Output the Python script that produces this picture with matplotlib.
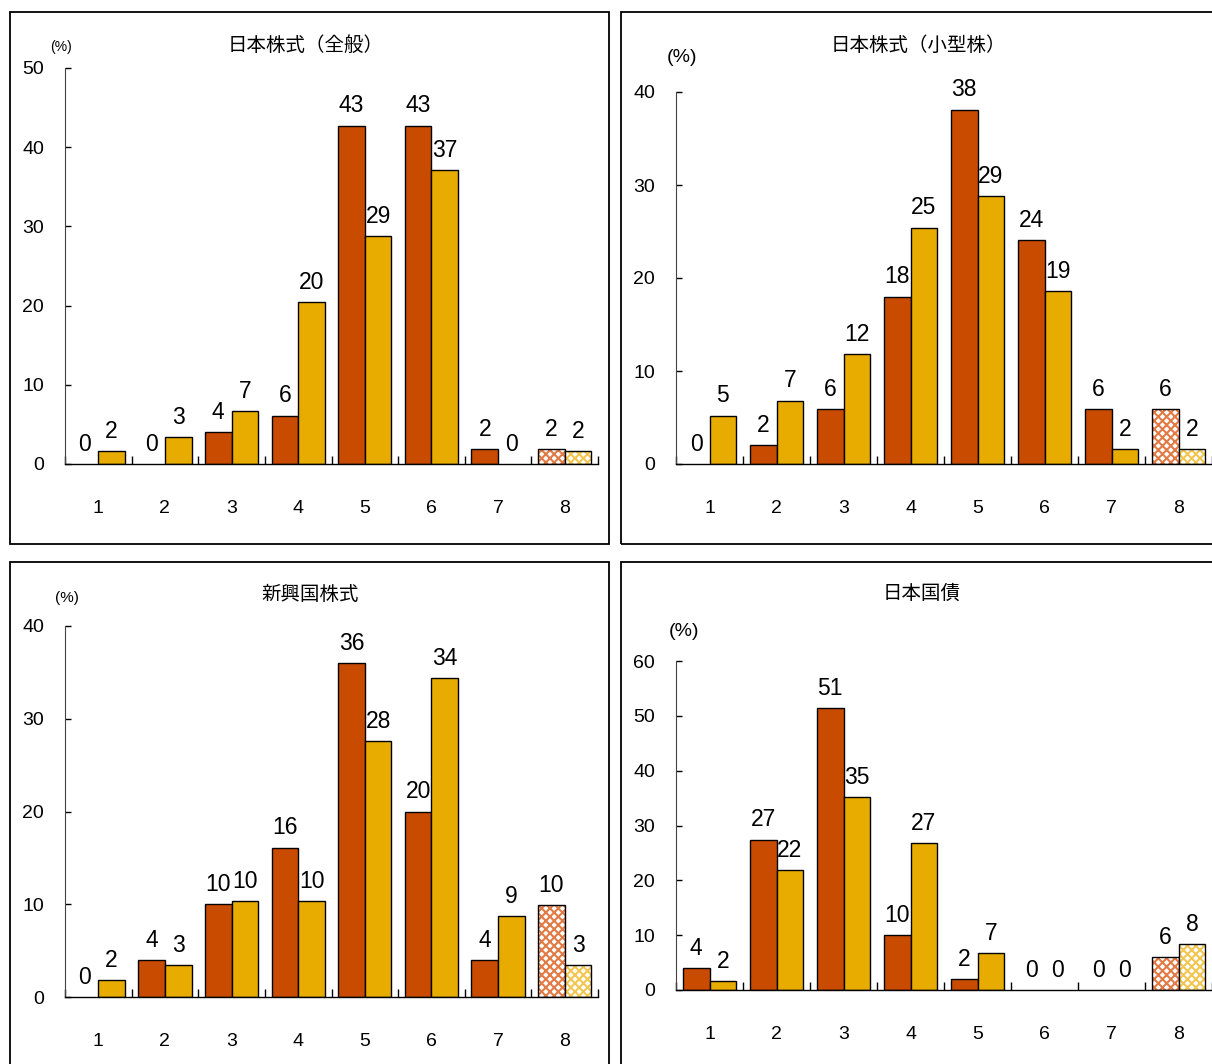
import numpy as np
import matplotlib
matplotlib.use("Agg")
from matplotlib import pyplot as plt
from matplotlib.patches import Rectangle

plt.rcParams['font.family'] = ['Liberation Sans', 'Noto Sans CJK JP', 'DejaVu Sans']
plt.rcParams['hatch.linewidth'] = 1.5

W, H = 1212, 1064

### data (percent of respondents, categories 1-8)

categories = [1, 2, 3, 4, 5, 6, 7, 8]
titles = ["日本株式（全般）", "日本株式（小型株）", "新興国株式", "日本国債"]

jp_all_prev = [0, 0, 4.0, 6.1, 42.7, 42.7, 1.9, 1.9]
jp_all_now = [1.6, 3.4, 6.7, 20.4, 28.8, 37.1, 0, 1.6]

jp_small_prev = [0, 2.0, 5.9, 18.0, 38.1, 24.1, 5.9, 5.9]
jp_small_now = [5.2, 6.8, 11.8, 25.4, 28.8, 18.6, 1.6, 1.6]

em_prev = [0, 4.0, 10.0, 16.1, 36.0, 20.0, 4.0, 9.9]
em_now = [1.8, 3.4, 10.3, 10.3, 27.6, 34.4, 8.7, 3.4]

jgb_prev = [4.0, 27.4, 51.4, 10.0, 2.0, 0, 0, 6.0]
jgb_now = [1.6, 21.9, 35.2, 26.8, 6.7, 0, 0, 8.4]

y_max = [50, 40, 40, 60]

### layout in pixels: (left, top, right, bottom) of plot area and of frame box
plot_px = [(65, 68, 598, 464), (676, 92, 1212, 464),
           (65, 626, 598, 997), (676, 661, 1212, 990)]
frame_px = [(10, 12, 609, 544), (621, 12, 1240, 544),
            (10, 562, 609, 1090), (621, 562, 1240, 1090)]
title_px = [(306, 45), (918, 45), (310, 594), (922, 593)]
pct_px = [(61, 47, 10), (682, 57, 14), (67, 598, 11), (684, 632, 14)]

RED = "#C84B00"
GOLD = "#E8AC00"
RED_HATCH = "#E27A45"
GOLD_HATCH = "#F2C650"

fig = plt.figure(figsize=(W / 100, H / 100), dpi=100)

series = [(jp_all_prev, jp_all_now), (jp_small_prev, jp_small_now),
          (em_prev, em_now), (jgb_prev, jgb_now)]

for i in range(4):
    l, t, r, b = frame_px[i]
    fig.patches.append(Rectangle((l / W, 1 - b / H), (r - l) / W, (b - t) / H,
                                 transform=fig.transFigure, fill=False,
                                 ec='black', lw=1.3))

    l, t, r, b = plot_px[i]
    ax = fig.add_axes([l / W, 1 - b / H, (r - l) / W, (b - t) / H])
    prev, now = series[i]
    x = np.arange(len(categories))
    w = 0.4
    for j in range(len(categories)):
        for k, (vals, col, hcol) in enumerate([(prev, RED, RED_HATCH), (now, GOLD, GOLD_HATCH)]):
            xc = x[j] + (k - 0.5) * w
            v = vals[j]
            if categories[j] == 8:
                # last category: hatched bars
                ax.bar(xc, v, w, color='white', edgecolor=hcol, hatch='xxxx', lw=0)
                ax.bar(xc, v, w, fill=False, edgecolor='black', lw=1)
            elif v > 0:
                ax.bar(xc, v, w, color=col, edgecolor='black', lw=1)
            ax.annotate(f"{v:.0f}", (xc, v), xytext=(0, 6), textcoords='offset points',
                        ha='center', va='bottom', fontsize=16.5)

    ax.set_xlim(-0.5, len(categories) - 0.5)
    ax.set_ylim(0, y_max[i])
    ax.set_yticks(np.arange(0, y_max[i] + 1, 10))
    ax.set_xticks(x)
    ax.set_xticklabels([str(c) for c in categories])
    ax.set_xticks(np.arange(-0.5, len(categories)), minor=True)
    ax.tick_params(axis='x', which='major', length=0, pad=26, labelsize=14)
    ax.tick_params(axis='x', which='minor', direction='in', length=6, width=1)
    ax.tick_params(axis='y', direction='in', length=4.5, width=1, pad=15, labelsize=14)
    for s in ['top', 'right']:
        ax.spines[s].set_visible(False)
    ax.spines['left'].set_color('#444444')
    ax.spines['bottom'].set_linewidth(1)
    ax.patch.set_alpha(0)

    tx, ty = title_px[i]
    fig.text(tx / W, 1 - ty / H, titles[i], ha='center', va='center', fontsize=14,
             family=['Noto Sans CJK JP', 'DejaVu Sans'])
    px, py, fs = pct_px[i]
    fig.text(px / W, 1 - py / H, "(%)", ha='center', va='center', fontsize=fs)

fig.savefig("out.png", dpi=100)
